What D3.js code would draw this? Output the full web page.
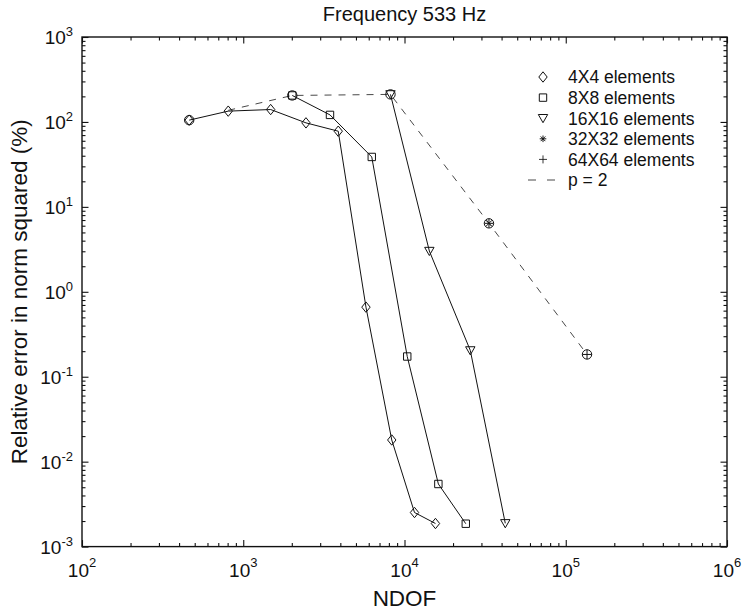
<!DOCTYPE html>
<html>
<head>
<meta charset="utf-8">
<script src="https://cdn.jsdelivr.net/npm/d3@7"></script>
<style>
    body { margin: 0; background: #fff; }
    svg { font-family: "Liberation Sans", Arial, sans-serif; }
</style>
</head>
<body>
<div id="chart"></div>
<script>

// tick values and labels (superscript exponent)
const xTicks = [1e2, 1e3, 1e4, 1e5, 1e6];
const xTickExp = ["2", "3", "4", "5", "6"];
const yTicks = [1e-3, 1e-2, 1e-1, 1e0, 1e1, 1e2, 1e3];
const yTickExp = ["-3", "-2", "-1", "0", "1", "2", "3"];

// series
const ndof4 = [462, 807, 1479, 2449, 3882, 5768, 8337, 11535, 15560];
const err4 = [105, 134, 140, 97.5, 77.8, 0.66, 0.018, 0.00252, 0.00187];

const ndof8 = [2014, 3451, 6266, 10400, 16220, 23990];
const err8 = [205, 121, 38.7, 0.173, 0.00546, 0.00186];

const ndof16 = [8185, 14260, 25590, 42170];
const err16 = [211, 3.02, 0.204, 0.00188];

const ndof32 = [33400];
const err32 = [6.4];

const ndof64 = [135500];
const err64 = [0.183];

// p = 2 dashed line
const ndofP2 = [807, 2014, 8185, 33400, 135500];
const errP2 = [137, 205, 211, 6.4, 0.183];

// circled points
const ndofCirc = [462, 2014, 8185, 33400, 135500];
const errCirc = [105, 205, 211, 6.4, 0.183];

const legendLabels = ["4X4 elements", "8X8 elements", "16X16 elements", "32X32 elements", "64X64 elements", "p = 2"];

// marker shapes
const shapes = {
    diamond: "M0,-5.2L4.2,0L0,5.2L-4.2,0Z",
    square: "M-3.7,-3.7H3.7V3.7H-3.7Z",
    triangle: "M-4.7,-3.7H4.7L0,4.5Z",
    star: "M-4.4,0H4.4M0,-4.4V4.4M-3.1,-3.1L3.1,3.1M-3.1,3.1L3.1,-3.1",
    plus: "M-4.7,0H4.7M0,-4.7V4.7"
};

let margin = {top: 37, right: 18, bottom: 66.4, left: 82};
let width = 745 - margin.left - margin.right,
    height = 613 - margin.top - margin.bottom;

let svg = d3.select("#chart").append("svg")
    .attr("width", 745)
    .attr("height", 613);

let g = svg.append("g")
    .attr("transform", "translate(" + margin.left + "," + margin.top + ")");

let xScale = d3.scaleLog().domain([1e2, 1e6]).range([0, width]);
let yScale = d3.scaleLog().domain([1e-3, 1e3]).range([height, 0]);

// minor ticks from the log scale itself
let xMinor = xScale.ticks().filter(d => !xTicks.some(t => Math.abs(t - d) / t < 1e-9));
let yMinor = yScale.ticks().filter(d => !yTicks.some(t => Math.abs(t - d) / t < 1e-9));

function tickAxis(axisFn, scale, major, minor, transform) {
    let a = g.append("g").attr("transform", transform);
    a.append("g").call(axisFn(scale).tickValues(minor).tickSize(-3.5).tickFormat(""));
    a.append("g").call(axisFn(scale).tickValues(major).tickSize(-6.5).tickFormat(""));
    a.selectAll(".domain").remove();
    a.selectAll(".tick line").attr("stroke", "#111").attr("stroke-width", 1.1);
    return a;
}

tickAxis(d3.axisBottom, xScale, xTicks, xMinor, "translate(0," + height + ")");
tickAxis(d3.axisTop, xScale, xTicks, xMinor, "translate(0,0)");
tickAxis(d3.axisLeft, yScale, yTicks, yMinor, "translate(0,0)");
tickAxis(d3.axisRight, yScale, yTicks, yMinor, "translate(" + width + ",0)");

// box
g.append("rect")
    .attr("width", width)
    .attr("height", height)
    .attr("fill", "none")
    .attr("stroke", "#111")
    .attr("stroke-width", 1.4);

// x tick labels
let xl = g.append("g").selectAll("text")
    .data(xTicks)
    .enter().append("text")
    .attr("x", d => xScale(d))
    .attr("y", height + 30.5)
    .attr("text-anchor", "middle")
    .attr("fill", "#111");
xl.append("tspan").attr("font-size", "19px").text("10");
xl.append("tspan").attr("font-size", "13px").attr("dy", -10).text((d, i) => xTickExp[i]);

// y tick labels
let yl = g.append("g").selectAll("text")
    .data(yTicks)
    .enter().append("text")
    .attr("x", -9)
    .attr("y", d => yScale(d) + 7)
    .attr("text-anchor", "end")
    .attr("fill", "#111");
yl.append("tspan").attr("font-size", "19px").text("10");
yl.append("tspan").attr("font-size", "13px").attr("dy", -8).text((d, i) => yTickExp[i]);

// title and axis labels
svg.append("text")
    .attr("x", margin.left + width / 2)
    .attr("y", 21)
    .attr("text-anchor", "middle")
    .attr("font-size", "20px")
    .attr("fill", "#111")
    .text("Frequency 533 Hz");

svg.append("text")
    .attr("x", margin.left + width / 2)
    .attr("y", 606)
    .attr("text-anchor", "middle")
    .attr("font-size", "22.5px")
    .attr("fill", "#111")
    .text("NDOF");

svg.append("text")
    .attr("transform", "translate(27," + (margin.top + height / 2) + ") rotate(-90)")
    .attr("text-anchor", "middle")
    .attr("font-size", "22.5px")
    .attr("fill", "#111")
    .text("Relative error in norm squared (%)");

// lines
let line = d3.line()
    .x(d => xScale(d[0]))
    .y(d => yScale(d[1]));

function zip(xs, ys) { return xs.map((x, i) => [x, ys[i]]); }

let series = [
    {x: ndof4, y: err4, shape: "diamond"},
    {x: ndof8, y: err8, shape: "square"},
    {x: ndof16, y: err16, shape: "triangle"},
    {x: ndof32, y: err32, shape: "star"},
    {x: ndof64, y: err64, shape: "plus"}
];

g.append("path")
    .datum(zip(ndofP2, errP2))
    .attr("fill", "none")
    .attr("stroke", "#333")
    .attr("stroke-width", 0.9)
    .attr("stroke-dasharray", "7,7")
    .attr("d", line);

series.forEach(function (s) {
    g.append("path")
        .datum(zip(s.x, s.y))
        .attr("fill", "none")
        .attr("stroke", "#111")
        .attr("stroke-width", 1)
        .attr("d", line);
});

// markers
series.forEach(function (s) {
    g.append("g").selectAll("path")
        .data(zip(s.x, s.y))
        .enter().append("path")
        .attr("transform", d => "translate(" + xScale(d[0]) + "," + yScale(d[1]) + ")")
        .attr("d", shapes[s.shape])
        .attr("fill", "none")
        .attr("stroke", "#111")
        .attr("stroke-width", 1);
});

g.append("g").selectAll("circle")
    .data(zip(ndofCirc, errCirc))
    .enter().append("circle")
    .attr("cx", d => xScale(d[0]))
    .attr("cy", d => yScale(d[1]))
    .attr("r", 4.7)
    .attr("fill", "none")
    .attr("stroke", "#111")
    .attr("stroke-width", 1);

// legend
let legendShapes = ["diamond", "square", "triangle", "star", "plus"];
let lg = svg.append("g").attr("transform", "translate(543,77)");
legendLabels.forEach(function (lab, i) {
    let row = lg.append("g").attr("transform", "translate(0," + (i * 20.6) + ")");
    if (i < legendShapes.length) {
        let sc = legendShapes[i] == "star" ? 0.75 : (legendShapes[i] == "plus" ? 0.85 : 1);
        row.append("path")
            .attr("d", shapes[legendShapes[i]])
            .attr("transform", "scale(" + sc + ")")
            .attr("fill", "none")
            .attr("stroke", "#111")
            .attr("stroke-width", legendShapes[i] == "star" ? 1.3 : 1);
    } else {
        row.append("line")
            .attr("x1", -15).attr("x2", 12)
            .attr("stroke", "#333")
            .attr("stroke-width", 0.9)
            .attr("stroke-dasharray", "8,11");
    }
    row.append("text")
        .attr("x", 25)
        .attr("y", 6.3)
        .attr("font-size", "17.5px")
        .attr("fill", "#111")
        .text(lab);
});

</script>
</body>
</html>
